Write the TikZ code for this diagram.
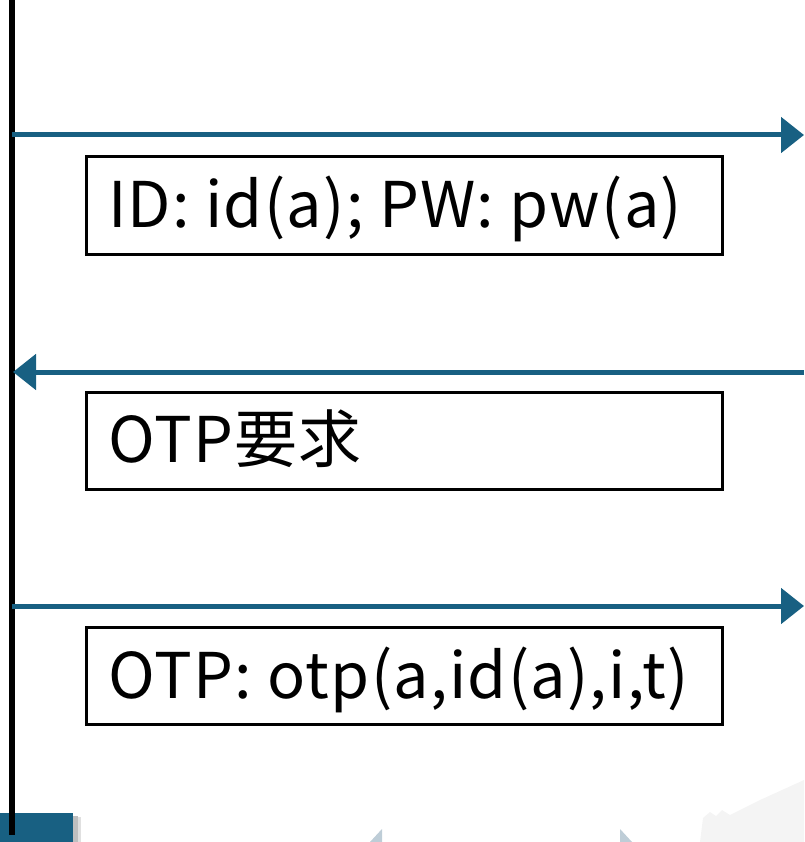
\documentclass[tikz,border=0pt]{standalone}
\usepackage{fontspec}
\setmainfont{Noto Sans CJK JP}[LetterSpace=2]
\usetikzlibrary{arrows.meta}
\definecolor{teal1}{RGB}{24,96,130}
\definecolor{faint}{RGB}{190,205,215}
\definecolor{faintbg}{RGB}{244,244,244}
\tikzset{
  msgbox/.style={draw=black, line width=3pt, minimum width=636pt, minimum height=97pt, inner sep=0pt},
  msgtext/.style={anchor=base west, inner sep=0pt, font=\fontsize{63pt}{70pt}\selectfont},
  msg/.style={draw=teal1, line width=5pt, -{Triangle[length=23pt,width=35pt]}},
  life/.style={draw=black, line width=6pt}
}
\begin{document}
\begin{tikzpicture}[x=1pt,y=-1pt]
\useasboundingbox (0,0) rectangle (804,842);
% background faint shapes
\fill[faintbg] (700,842) -- (703,818) -- (710,812) -- (716,816) -- (722,810) -- (730,815) -- (760,800) -- (804,780) -- (804,842) -- cycle;
\fill[faint] (370,842) -- (382,829) -- (382,842) -- cycle;
\fill[faint] (620,842) -- (620,829) -- (632,842) -- cycle;
% bottom teal bar with shadow
\fill[black!25] (73,816) rectangle (78,842);
\fill[black!12] (78,817) rectangle (81,842);
\node[fill=teal1, minimum width=73pt, minimum height=29pt, inner sep=0pt, anchor=north west] (bar) at (0,813) {};
% lifeline
\coordinate (ltop) at (12,0);
\coordinate (lbot) at (12,835);
\draw[life] (ltop) -- (lbot);
% messages
\coordinate (a1s) at (12,135);
\coordinate (a1e) at (804,135);
\coordinate (a2s) at (804,372);
\coordinate (a2e) at (13,372);
\coordinate (a3s) at (12,606);
\coordinate (a3e) at (804,606);
\draw[msg] (a1s) -- (a1e);
\draw[msg] (a2s) -- (a2e);
\draw[msg] (a3s) -- (a3e);
% boxes
\node[msgbox] (b1) at (404,205.5) {};
\node[msgbox] (b2) at (404,441) {};
\node[msgbox] (b3) at (404,676) {};
\node[msgtext] (t1) at (108,228) {ID: id(a); PW: pw(a)};
\node[msgtext] (t2) at (108,462) {OTP要求};
\node[msgtext] (t3) at (108,698) {OTP: otp(a,id(a),i,t)};
\end{tikzpicture}
\end{document}
